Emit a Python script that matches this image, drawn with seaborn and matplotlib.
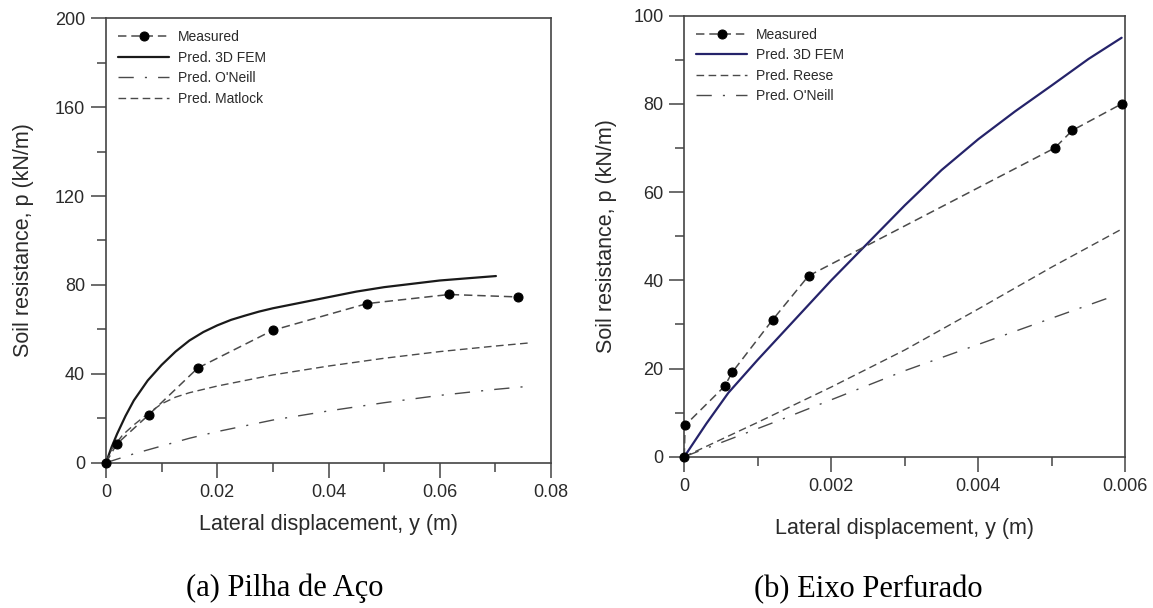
import matplotlib
matplotlib.use("Agg")
import matplotlib.pyplot as plt
from matplotlib.ticker import FixedLocator, FixedFormatter, MultipleLocator
import seaborn as sns
import pandas as pd

# ---------------- data: (a) Pilha de Aço ----------------
a_meas_x = [0, 0.0019, 0.0077, 0.0165, 0.030, 0.0469, 0.0617, 0.0741]
a_meas_y = [0, 8.3, 21.6, 42.6, 59.6, 71.6, 75.7, 74.6]

a_fem_x = [0, 0.001, 0.002, 0.0035, 0.005, 0.0075, 0.01, 0.0125, 0.015, 0.0175,
           0.02, 0.0225, 0.025, 0.0275, 0.03, 0.035, 0.04, 0.045, 0.05, 0.055,
           0.06, 0.065, 0.0701]
a_fem_y = [0, 7, 13, 21, 28, 37, 44, 50, 55, 58.8,
           61.8, 64.3, 66.2, 68, 69.5, 72, 74.5, 77, 79, 80.5,
           82, 83, 84]

a_oneill_x = [0, 0.005, 0.01, 0.015, 0.02, 0.03, 0.04, 0.05, 0.06, 0.07, 0.0765]
a_oneill_y = [0, 4, 7.5, 11, 14, 19.2, 23.3, 27, 30.3, 33, 34.5]

a_matlock_x = [0, 0.001, 0.003, 0.005, 0.0075, 0.01, 0.0125, 0.015, 0.02, 0.03,
               0.04, 0.05, 0.06, 0.07, 0.0765]
a_matlock_y = [0, 6, 12.5, 17, 22, 26.5, 29.5, 31.5, 34.5, 39.5,
               43.5, 47, 50, 52.5, 54]

a_xticks = [0, 0.02, 0.04, 0.06, 0.08]
a_xticklabels = ["0", "0.02", "0.04", "0.06", "0.08"]
a_yticks = [0, 40, 80, 120, 160, 200]
a_yticklabels = ["0", "40", "80", "120", "160", "200"]

# ---------------- data: (b) Eixo Perfurado ----------------
b_meas_x = [0, 0.00001, 0.00055, 0.00065, 0.0012, 0.00169, 0.00504, 0.00528, 0.00595]
b_meas_y = [0, 7.1, 16.0, 19.1, 31.0, 41.0, 70.0, 74.0, 80.0]

b_fem_x = [0, 0.0003, 0.0006, 0.001, 0.0015, 0.002, 0.0025, 0.003, 0.0035,
           0.004, 0.0045, 0.005, 0.0055, 0.00595]
b_fem_y = [0, 7.5, 14.5, 22, 31, 40, 48.5, 57, 65, 72, 78.3, 84.2, 90.2, 95]

b_reese_x = [0, 0.001, 0.002, 0.003, 0.004, 0.005, 0.00595]
b_reese_y = [0, 7.8, 15.8, 24.2, 33.5, 43, 51.6]

b_oneill_x = [0, 0.0013, 0.003, 0.00582]
b_oneill_y = [0, 8.3, 19.5, 36.3]

b_xticks = [0, 0.002, 0.004, 0.006]
b_xticklabels = ["0", "0.002", "0.004", "0.006"]
b_yticks = [0, 20, 40, 60, 80, 100]
b_yticklabels = ["0", "20", "40", "60", "80", "100"]

# ---------------- style ----------------
sns.set_style("ticks")
plt.rcParams["font.family"] = ["Liberation Sans", "DejaVu Sans"]
plt.rcParams["legend.numpoints"] = 1

TXT = "#2a2a2a"
GRAY = "#4a4a4a"
NAVY = "#25236a"

DASH = (0, (5.5, 3.2))
DASHDOT = (0, (11, 8, 1.5, 8))

fig = plt.figure(figsize=(11.53, 6.08), dpi=100)
axa = fig.add_axes([106 / 1153, 1 - 462.7 / 608, 445 / 1153, 444.4 / 608])
axb = fig.add_axes([684.3 / 1153, 1 - 456.7 / 608, 441 / 1153, 441 / 608])


def line(ax, xs, ys, label, **kw):
    df = pd.DataFrame({"x": xs, "y": ys})
    sns.lineplot(data=df, x="x", y="y", ax=ax, label=label, sort=False,
                 estimator=None, **kw)


# panel a
line(axa, a_meas_x, a_meas_y, "Measured", color=GRAY, linestyle=DASH, linewidth=1.1,
     marker="o", markersize=6.5, markerfacecolor="k", markeredgecolor="k",
     clip_on=False, zorder=5)
line(axa, a_fem_x, a_fem_y, "Pred. 3D FEM", color="#1a1a1a", linewidth=1.6)
line(axa, a_oneill_x, a_oneill_y, "Pred. O'Neill", color=GRAY, linestyle=DASHDOT, linewidth=1.0)
line(axa, a_matlock_x, a_matlock_y, "Pred. Matlock", color=GRAY, linestyle=DASH, linewidth=1.0)

# panel b
line(axb, b_meas_x, b_meas_y, "Measured", color=GRAY, linestyle=DASH, linewidth=1.1,
     marker="o", markersize=6.5, markerfacecolor="k", markeredgecolor="k",
     clip_on=False, zorder=5)
line(axb, b_fem_x, b_fem_y, "Pred. 3D FEM", color=NAVY, linewidth=1.6)
line(axb, b_reese_x, b_reese_y, "Pred. Reese", color=GRAY, linestyle=DASH, linewidth=1.0)
line(axb, b_oneill_x, b_oneill_y, "Pred. O'Neill", color=GRAY, linestyle=DASHDOT, linewidth=1.0)

panels = [
    (axa, (0, 0.08), (0, 200), a_xticks, a_xticklabels, a_yticks, a_yticklabels, 0.01, 20, 10, 15),
    (axb, (0, 0.006), (0, 100), b_xticks, b_xticklabels, b_yticks, b_yticklabels, 0.001, 10, 17, 12),
]
for ax, xl, yl, xt, xtl, yt, ytl, xminor, yminor, xpad, ypad in panels:
    ax.set_xlim(*xl)
    ax.set_ylim(*yl)
    ax.xaxis.set_major_locator(FixedLocator(xt))
    ax.xaxis.set_major_formatter(FixedFormatter(xtl))
    ax.yaxis.set_major_locator(FixedLocator(yt))
    ax.yaxis.set_major_formatter(FixedFormatter(ytl))
    ax.xaxis.set_minor_locator(MultipleLocator(xminor))
    ax.yaxis.set_minor_locator(MultipleLocator(yminor))
    for s in ax.spines.values():
        s.set_visible(True)
        s.set_color("#444444")
        s.set_linewidth(1.2)
    ax.tick_params(which="major", direction="out", length=11, width=1.1,
                   color="#444444", labelsize=13, labelcolor=TXT, pad=4)
    ax.tick_params(which="minor", direction="out", length=6.5, width=1.1,
                   color="#444444")
    ax.set_xlabel("Lateral displacement, y (m)", fontsize=15.5, color=TXT, labelpad=xpad)
    ax.set_ylabel("Soil resistance, p (kN/m)", fontsize=15.5, color=TXT, labelpad=ypad)
    leg = ax.legend(loc="upper left", frameon=False, fontsize=10, handlelength=3.7,
                    handletextpad=0.6, labelspacing=0.47, borderaxespad=0.45,
                    borderpad=0.4)
    for t in leg.get_texts():
        t.set_color(TXT)

fig.text(285 / 1153, 1 - 588 / 608, "(a) Pilha de Aço", ha="center", va="center",
         fontsize=22, family=["Liberation Serif", "DejaVu Serif"], color="black")
fig.text(868 / 1153, 1 - 590 / 608, "(b) Eixo Perfurado", ha="center", va="center",
         fontsize=22, family=["Liberation Serif", "DejaVu Serif"], color="black")

fig.savefig("out.png", dpi=100)
